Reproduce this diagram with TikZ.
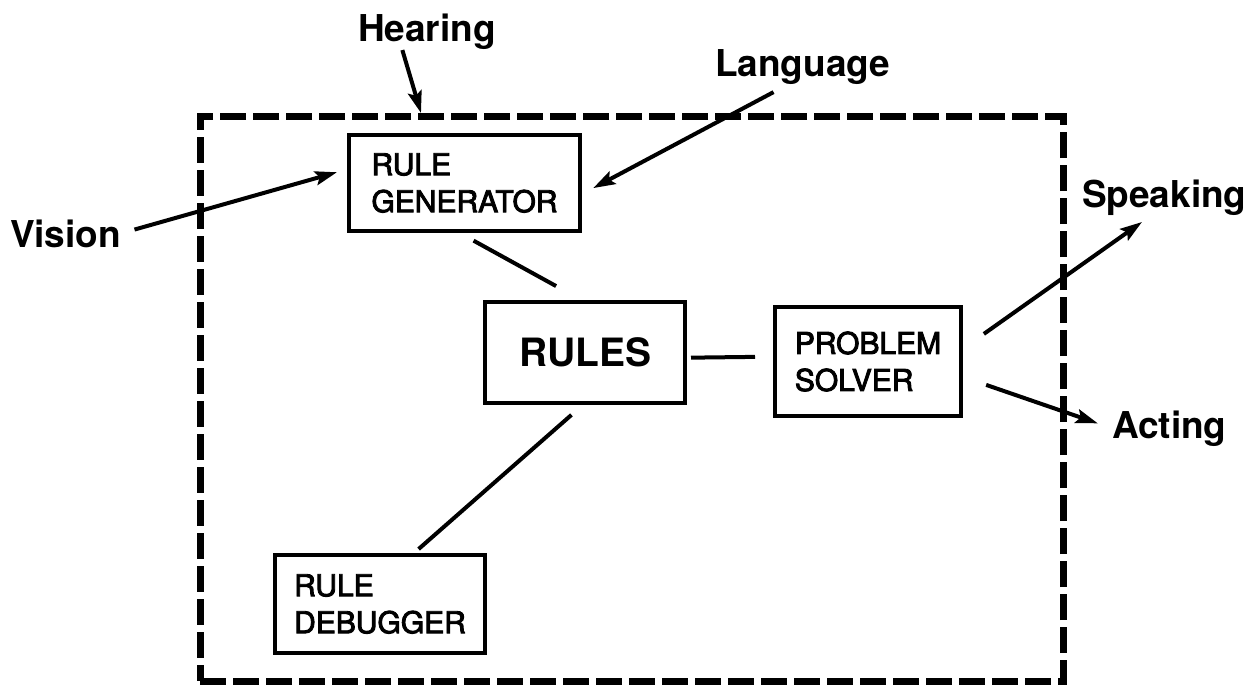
\documentclass[tikz,border=0pt]{standalone}
\usepackage{fontspec}
\setmainfont{TeX Gyre Heros}
\newfontfamily\boxfont[FakeBold=3]{TeX Gyre Heros}
\usepackage{tikz}
\usetikzlibrary{arrows.meta,calc,positioning}
\tikzset{
  >={Stealth[length=22pt,width=14pt,inset=4pt]},
  feed/.style={->,line width=4pt},
  link/.style={line width=4pt},
  module/.style={draw,line width=4.5pt,align=left,inner sep=0pt,outer sep=0pt,
                 font=\boxfont\fontsize{30}{37}\selectfont},
  core/.style={module,font=\fontsize{39}{44}\selectfont\bfseries},
  sense/.style={inner sep=0pt,outer sep=0pt,font=\fontsize{37}{40}\selectfont\bfseries},
  boundary/.style={draw,line width=7pt,dash pattern=on 26pt off 7pt,outer sep=0pt,
                   minimum width=863pt,minimum height=564pt}
}
\begin{document}
\begin{tikzpicture}[x=1pt,y=-1pt]
  \useasboundingbox (0,0) rectangle (1252,690);
  \node[boundary] (mind) at (631.5,399) {};
  \node[module,minimum width=231pt,minimum height=96pt] (gen) at (464.5,183) {RULE\\GENERATOR};
  \node[core,minimum width=200pt,minimum height=101pt] (rules) at (585,352.5) {RULES};
  \node[module,minimum width=186pt,minimum height=109pt] (solver) at (868,361.5) {PROBLEM\\SOLVER};
  \node[module,minimum width=210pt,minimum height=98pt] (debug) at (380,604) {RULE\\DEBUGGER};
  \node[sense,anchor=base west] (hearing) at (358,42) {Hearing};
  \node[sense,anchor=base west] (language) at (715,77) {Language};
  \node[sense,anchor=base west] (vision) at (10,247) {Vision};
  \node[sense,anchor=base west] (speaking) at (1082,207) {Speaking};
  \node[sense,anchor=base west] (acting) at (1112,438) {Acting};
  \coordinate (hearin) at (421,113);
  \draw[feed] (hearing.216) -- (hearin);
  \draw[feed,shorten <=14pt,shorten >=12.5pt] (vision.east) -- (gen.173);
  \draw[feed,shorten <=15pt,shorten >=15pt] (language.228) -- (gen.354);
  \draw[feed,shorten <=28pt,shorten >=12pt] (solver.7) -- (speaking.235);
  \draw[feed,shorten <=26.6pt,shorten >=15pt] (solver.351) -- (acting.west);
  \draw[link,shorten <=20pt,shorten >=33pt] (gen.260) -- (rules.north);
  \draw[link,shorten <=6pt,shorten >=20pt] (rules.357) -- (solver.177);
  \draw[link,shorten <=18pt,shorten >=9pt] (rules.south) -- (debug.57);
\end{tikzpicture}
\end{document}
